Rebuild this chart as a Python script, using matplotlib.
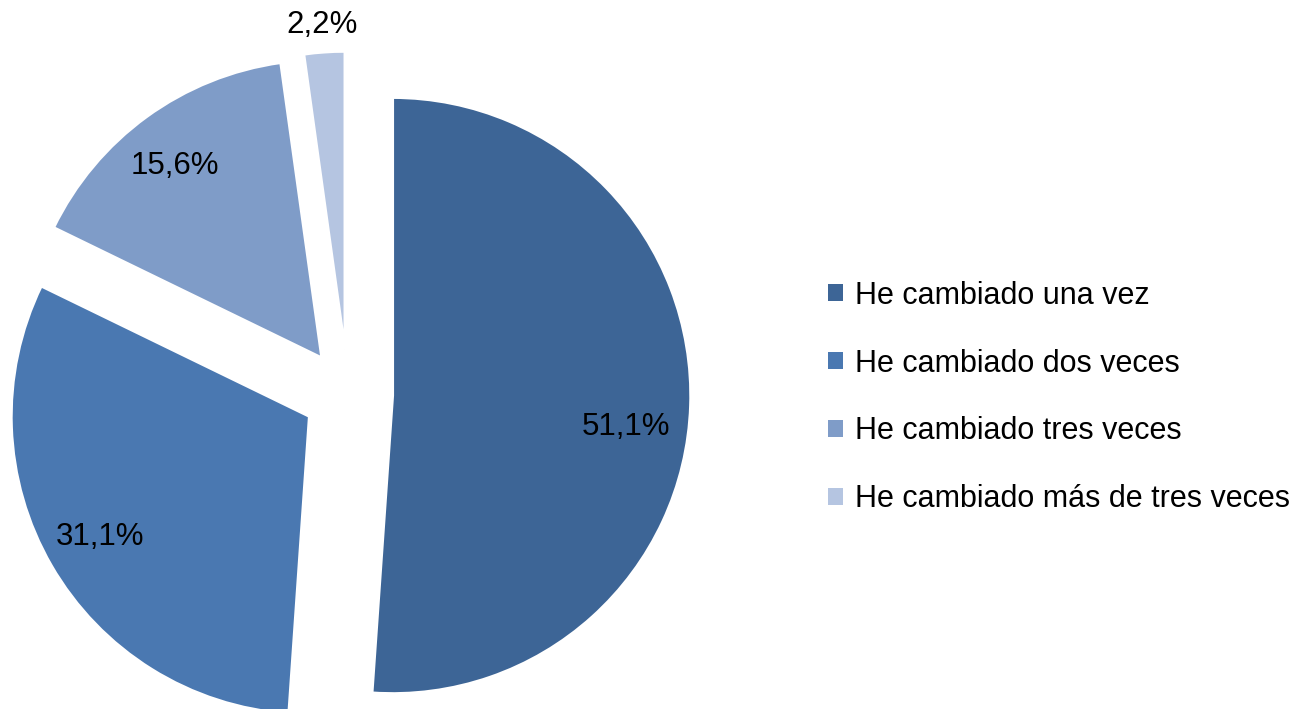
import numpy as np
import matplotlib
matplotlib.use("Agg")
import matplotlib.pyplot as plt
from matplotlib.patches import Patch

plt.rcParams['font.family'] = ['Liberation Sans', 'DejaVu Sans']

categories = ["He cambiado una vez", "He cambiado dos veces",
              "He cambiado tres veces", "He cambiado más de tres veces"]
values = [51.1, 31.1, 15.6, 2.2]
colors = ["#3D6596", "#4A78B1", "#7F9CC8", "#B5C5E1"]

W, H, DPI = 1301, 709, 100
fig = plt.figure(figsize=(W / DPI, H / DPI), dpi=DPI)
ax = fig.add_axes([0, 0, 1, 1])

scale = 298.0          # pixels per unit radius
cx, cy = 348.0, 394.0  # pie centre in pixels (from top-left)

wedges, _ = ax.pie(values, colors=colors, startangle=90, counterclock=False,
                   explode=[0.15] * len(values), radius=1.0,
                   wedgeprops=dict(edgecolor="white", linewidth=2.0))

ax.set_xlim(-cx / scale, (W - cx) / scale)
ax.set_ylim(-(H - cy) / scale, cy / scale)
ax.set_aspect('auto')
ax.axis('off')

label_r = [0.79, 0.81, 0.81, 1.09]
label_shift = [-5.6, 0.0, 1.5, 0.0]
for w, v, r, sh in zip(wedges, values, label_r, label_shift):
    ang = np.deg2rad((w.theta1 + w.theta2) / 2 + sh)
    x0, y0 = w.center
    ax.text(x0 + r * np.cos(ang), y0 + r * np.sin(ang),
            f"{v:.1f}%".replace('.', ','), ha='center', va='center',
            fontsize=22.5, color='black')

handles = [Patch(facecolor=c, edgecolor='none') for c in colors]
fig.legend(handles, categories, loc='center left',
           bbox_to_anchor=(828 / W, 1 - 397.5 / H), frameon=False,
           fontsize=22, handlelength=0.49, handleheight=0.49,
           handletextpad=0.39, labelspacing=1.24, borderpad=0, borderaxespad=0)

fig.savefig("out.png", dpi=DPI)
